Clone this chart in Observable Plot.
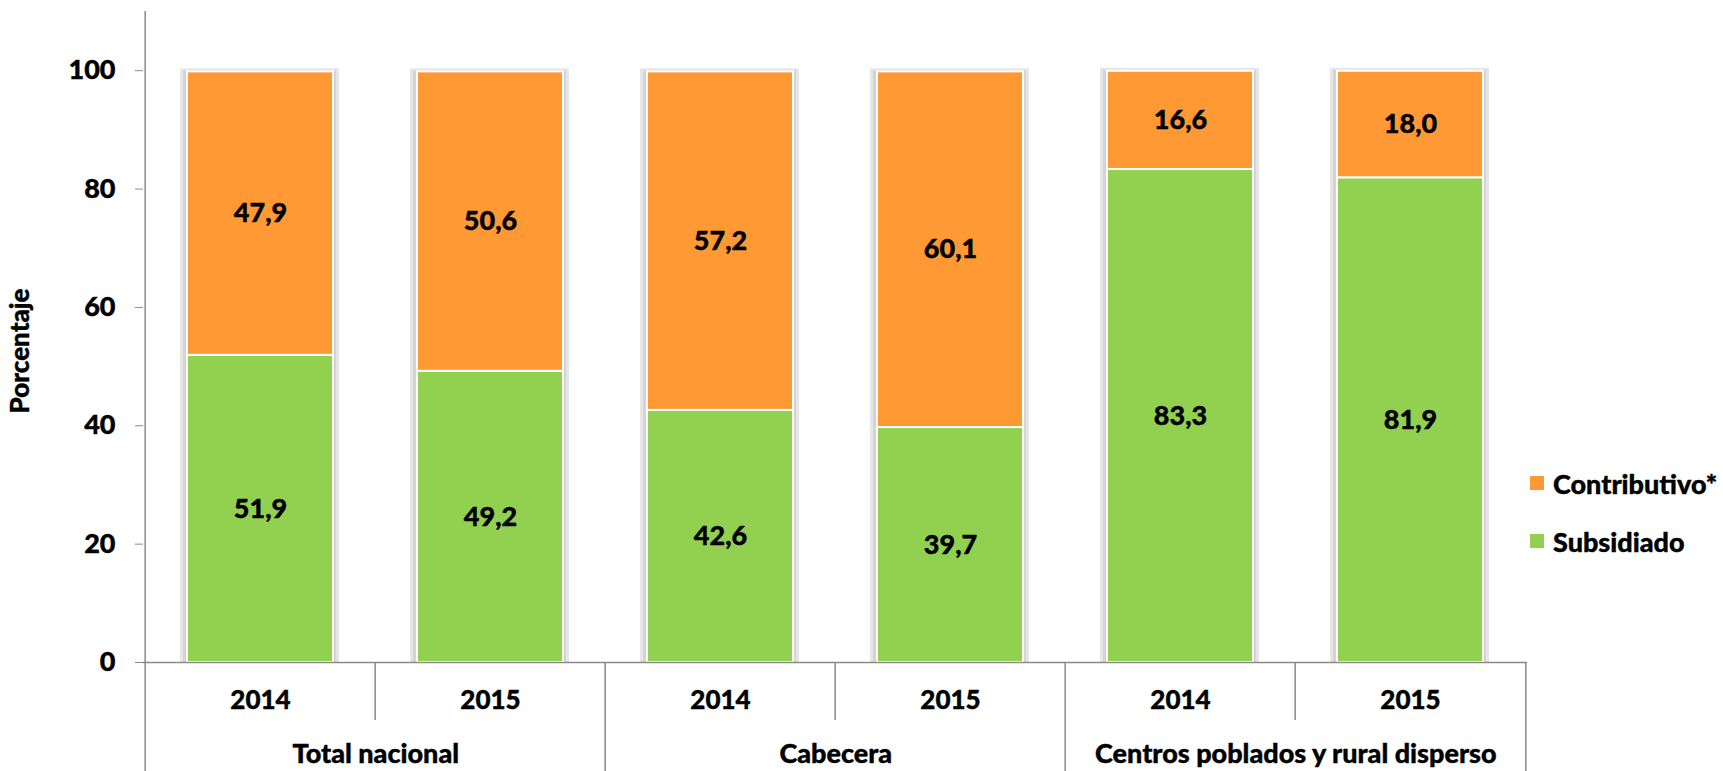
<!DOCTYPE html>
<html>
<head>
<meta charset="utf-8">
<script src="https://cdn.jsdelivr.net/npm/d3@7"></script>
<script src="https://cdn.jsdelivr.net/npm/@observablehq/plot@0.6"></script>
<style>
  html, body { margin: 0; padding: 0; background: #ffffff; }
  #wrap { position: relative; width: 1723px; height: 771px; font-family: Lato, "Open Sans", sans-serif; font-weight: 900; }
  .legend { position: absolute; left: 1530px; top: 465px; font-size: 27px; color: #000; -webkit-text-stroke: 0.4px #000; }
  .legend .item { display: flex; align-items: center; height: 36px; margin-bottom: 22px; white-space: nowrap; }
  .legend .sw { width: 14px; height: 14px; margin-right: 9px; }
</style>
</head>
<body>
<div id="wrap"></div>
<script>
// ---- data ----
const groups = ["Total nacional", "Total nacional", "Cabecera", "Cabecera", "Centros poblados y rural disperso", "Centros poblados y rural disperso"];
const years = ["2014", "2015", "2014", "2015", "2014", "2015"];
const subsidiado = [51.9, 49.2, 42.6, 39.7, 83.3, 81.9];
const contributivo = [47.9, 50.6, 57.2, 60.1, 16.6, 18.0];
const series = ["Contributivo*", "Subsidiado"];
const seriesColors = ["#FF9933", "#92D050"];
const yTicks = [0, 20, 40, 60, 80, 100];
const yLabel = "Porcentaje";

// ---- layout ----
const W = 1723, H = 771;
const mL = 143, mR = 196, mT = 11, mB = 109;
const yMax = 110;
const pxPerUnit = (H - mT - mB) / yMax;
const step = (W - mL - mR) / groups.length;
const gridColor = "#8a8a8a";
const textStyle = {fill: "#000", stroke: "#000", strokeWidth: 0.4, fontWeight: 900};

const keys = groups.map((g, i) => g + "|" + years[i]);
const rows = [];
keys.forEach((k, i) => {
  rows.push({key: k, serie: "Subsidiado", value: subsidiado[i]});
  rows.push({key: k, serie: "Contributivo*", value: contributivo[i]});
});
const totals = keys.map((k, i) => ({key: k, total: subsidiado[i] + contributivo[i]}));
const groupNames = Array.from(new Set(groups));
const groupStarts = groupNames.map(g => ({name: g, key: keys[groups.indexOf(g)]}));
const innerDividers = keys.filter((k, i) => i > 0 && groups[i] === groups[i - 1]);
const outerDividers = keys.filter((k, i) => i > 0 && groups[i] !== groups[i - 1]);
const fmt = v => v.toFixed(1).replace(".", ",");

const shortDrop = -58 / pxPerUnit;
const fullDrop = -mB / pxPerUnit;

const chart = Plot.plot({
  width: W,
  height: H,
  marginLeft: mL,
  marginRight: mR,
  marginTop: mT,
  marginBottom: mB,
  style: {fontFamily: "Lato, 'Open Sans', sans-serif", fontWeight: "900", fontSize: "27px", color: "#000", background: "#fff"},
  x: {domain: keys, padding: 0, axis: null},
  y: {domain: [0, yMax], axis: null},
  color: {domain: series, range: seriesColors},
  marks: [
    // soft bar shadow
    Plot.barY(totals, {x: "key", y: "total", fill: "#e6e6e6", insetLeft: 35, insetRight: 36, insetTop: -3}),
    Plot.barY(totals, {x: "key", y: "total", fill: "#d4d4d4", insetLeft: 38, insetRight: 39, insetTop: -1}),
    // stacked bars
    Plot.barY(rows, Plot.stackY({x: "key", y: "value", fill: "serie", stroke: "#fff", strokeWidth: 2, insetLeft: 42, insetRight: 42})),
    // value labels
    Plot.text(rows, Plot.stackY({x: "key", y: "value", text: d => fmt(d.value), fontSize: 27, ...textStyle})),
    // y axis
    Plot.axisY({ticks: yTicks, tickSize: 8, tickPadding: 20, stroke: gridColor, fill: "#000", fontSize: 27, fontWeight: 900}),
    Plot.ruleY([0], {stroke: gridColor, strokeWidth: 1.5}),
    // vertical axis line through the category area
    Plot.ruleX([keys[0]], {x: d => d, dx: -step / 2, y1: yMax, y2: fullDrop, stroke: gridColor, strokeWidth: 1.5}),
    // category separators
    Plot.ruleX(innerDividers, {x: d => d, dx: -step / 2, y1: 0, y2: shortDrop, stroke: gridColor, strokeWidth: 1.5}),
    Plot.ruleX(outerDividers, {x: d => d, dx: -step / 2, y1: 0, y2: fullDrop, stroke: gridColor, strokeWidth: 1.5}),
    Plot.ruleX([keys[keys.length - 1]], {x: d => d, dx: step / 2, y1: 0, y2: fullDrop, stroke: gridColor, strokeWidth: 1.5}),
    // year labels
    Plot.text(keys, {x: d => d, y: () => 0, text: (d, i) => years[i], dy: 38, fontSize: 26, ...textStyle}),
    // group labels
    Plot.text(groupStarts, {x: "key", y: () => 0, text: "name", dx: step / 2, dy: 92, fontSize: 27, ...textStyle}),
    // y label
    Plot.text([yLabel], {frameAnchor: "left", textAnchor: "middle", text: d => d, rotate: -90, dx: -123, dy: 14, fontSize: 26, ...textStyle})
  ]
});

// thicken axis tick labels slightly (heavier face)
d3.select(chart).selectAll("g[aria-label='y-axis tick label'] text").attr("stroke", "#000").attr("stroke-width", 0.4);

const wrap = document.getElementById("wrap");
wrap.appendChild(chart);

const legend = document.createElement("div");
legend.className = "legend";
series.forEach((s, i) => {
  const item = document.createElement("div");
  item.className = "item";
  const sw = document.createElement("div");
  sw.className = "sw";
  sw.style.background = seriesColors[i];
  const lab = document.createElement("span");
  lab.textContent = s;
  item.appendChild(sw);
  item.appendChild(lab);
  legend.appendChild(item);
});
wrap.appendChild(legend);
</script>
</body>
</html>
